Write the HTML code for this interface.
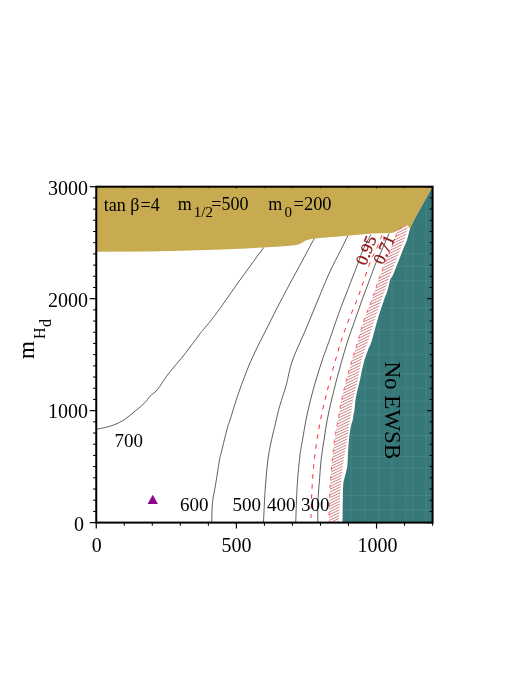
<!DOCTYPE html>
<html><head><meta charset="utf-8">
<style>
html,body{margin:0;padding:0;background:#fff;}
body{width:520px;height:692px;overflow:hidden;}
svg{display:block;opacity:0.999;will-change:transform;}
text{font-family:"Liberation Serif",serif;}
</style></head><body>
<svg width="520" height="692" viewBox="0 0 520 692">
<defs>
<clipPath id="plot"><rect x="96.25" y="186.7" width="336.35" height="335.9"/></clipPath>
<clipPath id="hclip"><path d="M407.50,225.00 L402.00,227.50 L397.00,231.00 L396.50,234.00 L393.50,242.00 L389.50,252.00 L387.00,258.00 L385.80,261.00 L378.50,280.00 L371.80,300.00 L364.00,320.00 L358.20,340.00 L352.00,360.00 L346.50,380.00 L341.50,400.00 L338.00,420.00 L334.50,440.00 L332.30,460.00 L330.50,480.00 L329.40,500.00 L329.00,522.50 L339.00,522.50 L340.00,500.00 L341.00,480.00 L343.70,460.00 L347.00,440.00 L350.00,420.00 L353.00,400.00 L357.70,380.00 L361.50,360.00 L368.50,340.00 L374.50,320.00 L381.50,300.00 L388.50,280.00 L396.00,260.00 L397.00,258.00 L402.00,245.00 L406.00,235.00 L407.50,226.00 Z"/></clipPath>
<clipPath id="tclip"><path d="M432.60,186.60 C429.50,192.17 417.77,212.93 414.00,220.00 C410.23,227.07 411.17,225.67 410.00,229.00 C408.83,232.33 408.00,237.00 407.00,240.00 C406.00,243.00 405.33,243.67 404.00,247.00 C402.67,250.33 400.50,256.17 399.00,260.00 C397.50,263.83 396.00,267.50 395.00,270.00 C394.00,272.50 393.83,273.33 393.00,275.00 C392.17,276.67 390.67,278.33 390.00,280.00 C389.33,281.67 389.50,283.00 389.00,285.00 C388.50,287.00 387.83,289.50 387.00,292.00 C386.17,294.50 385.58,295.33 384.00,300.00 C382.42,304.67 379.50,313.33 377.50,320.00 C375.50,326.67 373.58,335.00 372.00,340.00 C370.42,345.00 369.25,346.67 368.00,350.00 C366.75,353.33 365.50,356.67 364.50,360.00 C363.50,363.33 362.75,366.67 362.00,370.00 C361.25,373.33 360.75,376.67 360.00,380.00 C359.25,383.33 358.25,386.67 357.50,390.00 C356.75,393.33 356.00,396.67 355.50,400.00 C355.00,403.33 354.83,407.50 354.50,410.00 C354.17,412.50 353.80,413.33 353.50,415.00 C353.20,416.67 353.20,417.83 352.70,420.00 C352.20,422.17 351.12,424.67 350.50,428.00 C349.88,431.33 349.38,436.33 349.00,440.00 C348.62,443.67 348.42,446.67 348.20,450.00 C347.98,453.33 347.90,457.00 347.70,460.00 C347.50,463.00 347.53,465.00 347.00,468.00 C346.47,471.00 345.13,475.17 344.50,478.00 C343.87,480.83 343.48,481.33 343.20,485.00 C342.92,488.67 342.92,493.75 342.80,500.00 C342.68,506.25 342.55,518.75 342.50,522.50 L432.60,522.60 Z"/></clipPath>
</defs>
<rect width="520" height="692" fill="#fff"/>
<g clip-path="url(#plot)">
<path fill="#377878" d="M432.60,186.60 C429.50,192.17 417.77,212.93 414.00,220.00 C410.23,227.07 411.17,225.67 410.00,229.00 C408.83,232.33 408.00,237.00 407.00,240.00 C406.00,243.00 405.33,243.67 404.00,247.00 C402.67,250.33 400.50,256.17 399.00,260.00 C397.50,263.83 396.00,267.50 395.00,270.00 C394.00,272.50 393.83,273.33 393.00,275.00 C392.17,276.67 390.67,278.33 390.00,280.00 C389.33,281.67 389.50,283.00 389.00,285.00 C388.50,287.00 387.83,289.50 387.00,292.00 C386.17,294.50 385.58,295.33 384.00,300.00 C382.42,304.67 379.50,313.33 377.50,320.00 C375.50,326.67 373.58,335.00 372.00,340.00 C370.42,345.00 369.25,346.67 368.00,350.00 C366.75,353.33 365.50,356.67 364.50,360.00 C363.50,363.33 362.75,366.67 362.00,370.00 C361.25,373.33 360.75,376.67 360.00,380.00 C359.25,383.33 358.25,386.67 357.50,390.00 C356.75,393.33 356.00,396.67 355.50,400.00 C355.00,403.33 354.83,407.50 354.50,410.00 C354.17,412.50 353.80,413.33 353.50,415.00 C353.20,416.67 353.20,417.83 352.70,420.00 C352.20,422.17 351.12,424.67 350.50,428.00 C349.88,431.33 349.38,436.33 349.00,440.00 C348.62,443.67 348.42,446.67 348.20,450.00 C347.98,453.33 347.90,457.00 347.70,460.00 C347.50,463.00 347.53,465.00 347.00,468.00 C346.47,471.00 345.13,475.17 344.50,478.00 C343.87,480.83 343.48,481.33 343.20,485.00 C342.92,488.67 342.92,493.75 342.80,500.00 C342.68,506.25 342.55,518.75 342.50,522.50 L432.60,522.60 Z"/>
<g clip-path="url(#tclip)" stroke="#6fa3a3" stroke-width="0.7" opacity="0.38">
<line x1="351.0" y1="180" x2="351.0" y2="530"/><line x1="406.0" y1="180" x2="406.0" y2="530"/><line x1="365.0" y1="180" x2="365.0" y2="530"/><line x1="378.5" y1="180" x2="378.5" y2="530"/><line x1="392.0" y1="180" x2="392.0" y2="530"/><line x1="413.0" y1="180" x2="413.0" y2="530"/><line x1="426.0" y1="180" x2="426.0" y2="530"/><line x1="330" y1="253.6" x2="440" y2="253.6"/><line x1="330" y1="266.6" x2="440" y2="266.6"/><line x1="330" y1="280.7" x2="440" y2="280.7"/><line x1="330" y1="307.8" x2="440" y2="307.8"/><line x1="330" y1="329.7" x2="440" y2="329.7"/><line x1="330" y1="354.7" x2="440" y2="354.7"/><line x1="330" y1="373.6" x2="440" y2="373.6"/><line x1="330" y1="388.2" x2="440" y2="388.2"/><line x1="330" y1="401.0" x2="440" y2="401.0"/><line x1="330" y1="414.8" x2="440" y2="414.8"/><line x1="330" y1="435.6" x2="440" y2="435.6"/><line x1="330" y1="456.4" x2="440" y2="456.4"/><line x1="330" y1="468.0" x2="440" y2="468.0"/><line x1="330" y1="495.6" x2="440" y2="495.6"/><line x1="330" y1="509.8" x2="440" y2="509.8"/>
</g>
<path fill="#c8aa50" d="M96.20,186.60 L432.60,186.60 L414.00,220.00 L410.00,229.00 L407.50,225.00 L402.00,227.50 L397.00,231.00 L392.00,233.00 L372.00,233.50 L350.00,235.60 L320.00,238.00 L311.25,239.10 L306.25,240.30 L302.50,242.50 L298.75,244.40 L292.50,245.60 L280.00,246.60 L263.00,247.60 L240.00,248.70 L215.00,249.75 L180.00,250.80 L150.00,251.50 L96.20,251.70 Z"/>
<g clip-path="url(#hclip)" stroke="#b84a50" stroke-width="0.7">
<line x1="320" y1="200.00" x2="420" y2="152.00"/>
<line x1="320" y1="202.80" x2="420" y2="154.80"/>
<line x1="320" y1="205.60" x2="420" y2="157.60"/>
<line x1="320" y1="208.40" x2="420" y2="160.40"/>
<line x1="320" y1="211.20" x2="420" y2="163.20"/>
<line x1="320" y1="214.00" x2="420" y2="166.00"/>
<line x1="320" y1="216.80" x2="420" y2="168.80"/>
<line x1="320" y1="219.60" x2="420" y2="171.60"/>
<line x1="320" y1="222.40" x2="420" y2="174.40"/>
<line x1="320" y1="225.20" x2="420" y2="177.20"/>
<line x1="320" y1="228.00" x2="420" y2="180.00"/>
<line x1="320" y1="230.80" x2="420" y2="182.80"/>
<line x1="320" y1="233.60" x2="420" y2="185.60"/>
<line x1="320" y1="236.40" x2="420" y2="188.40"/>
<line x1="320" y1="239.20" x2="420" y2="191.20"/>
<line x1="320" y1="242.00" x2="420" y2="194.00"/>
<line x1="320" y1="244.80" x2="420" y2="196.80"/>
<line x1="320" y1="247.60" x2="420" y2="199.60"/>
<line x1="320" y1="250.40" x2="420" y2="202.40"/>
<line x1="320" y1="253.20" x2="420" y2="205.20"/>
<line x1="320" y1="256.00" x2="420" y2="208.00"/>
<line x1="320" y1="258.80" x2="420" y2="210.80"/>
<line x1="320" y1="261.60" x2="420" y2="213.60"/>
<line x1="320" y1="264.40" x2="420" y2="216.40"/>
<line x1="320" y1="267.20" x2="420" y2="219.20"/>
<line x1="320" y1="270.00" x2="420" y2="222.00"/>
<line x1="320" y1="272.80" x2="420" y2="224.80"/>
<line x1="320" y1="275.60" x2="420" y2="227.60"/>
<line x1="320" y1="278.40" x2="420" y2="230.40"/>
<line x1="320" y1="281.20" x2="420" y2="233.20"/>
<line x1="320" y1="284.00" x2="420" y2="236.00"/>
<line x1="320" y1="286.80" x2="420" y2="238.80"/>
<line x1="320" y1="289.60" x2="420" y2="241.60"/>
<line x1="320" y1="292.40" x2="420" y2="244.40"/>
<line x1="320" y1="295.20" x2="420" y2="247.20"/>
<line x1="320" y1="298.00" x2="420" y2="250.00"/>
<line x1="320" y1="300.80" x2="420" y2="252.80"/>
<line x1="320" y1="303.60" x2="420" y2="255.60"/>
<line x1="320" y1="306.40" x2="420" y2="258.40"/>
<line x1="320" y1="309.20" x2="420" y2="261.20"/>
<line x1="320" y1="312.00" x2="420" y2="264.00"/>
<line x1="320" y1="314.80" x2="420" y2="266.80"/>
<line x1="320" y1="317.60" x2="420" y2="269.60"/>
<line x1="320" y1="320.40" x2="420" y2="272.40"/>
<line x1="320" y1="323.20" x2="420" y2="275.20"/>
<line x1="320" y1="326.00" x2="420" y2="278.00"/>
<line x1="320" y1="328.80" x2="420" y2="280.80"/>
<line x1="320" y1="331.60" x2="420" y2="283.60"/>
<line x1="320" y1="334.40" x2="420" y2="286.40"/>
<line x1="320" y1="337.20" x2="420" y2="289.20"/>
<line x1="320" y1="340.00" x2="420" y2="292.00"/>
<line x1="320" y1="342.80" x2="420" y2="294.80"/>
<line x1="320" y1="345.60" x2="420" y2="297.60"/>
<line x1="320" y1="348.40" x2="420" y2="300.40"/>
<line x1="320" y1="351.20" x2="420" y2="303.20"/>
<line x1="320" y1="354.00" x2="420" y2="306.00"/>
<line x1="320" y1="356.80" x2="420" y2="308.80"/>
<line x1="320" y1="359.60" x2="420" y2="311.60"/>
<line x1="320" y1="362.40" x2="420" y2="314.40"/>
<line x1="320" y1="365.20" x2="420" y2="317.20"/>
<line x1="320" y1="368.00" x2="420" y2="320.00"/>
<line x1="320" y1="370.80" x2="420" y2="322.80"/>
<line x1="320" y1="373.60" x2="420" y2="325.60"/>
<line x1="320" y1="376.40" x2="420" y2="328.40"/>
<line x1="320" y1="379.20" x2="420" y2="331.20"/>
<line x1="320" y1="382.00" x2="420" y2="334.00"/>
<line x1="320" y1="384.80" x2="420" y2="336.80"/>
<line x1="320" y1="387.60" x2="420" y2="339.60"/>
<line x1="320" y1="390.40" x2="420" y2="342.40"/>
<line x1="320" y1="393.20" x2="420" y2="345.20"/>
<line x1="320" y1="396.00" x2="420" y2="348.00"/>
<line x1="320" y1="398.80" x2="420" y2="350.80"/>
<line x1="320" y1="401.60" x2="420" y2="353.60"/>
<line x1="320" y1="404.40" x2="420" y2="356.40"/>
<line x1="320" y1="407.20" x2="420" y2="359.20"/>
<line x1="320" y1="410.00" x2="420" y2="362.00"/>
<line x1="320" y1="412.80" x2="420" y2="364.80"/>
<line x1="320" y1="415.60" x2="420" y2="367.60"/>
<line x1="320" y1="418.40" x2="420" y2="370.40"/>
<line x1="320" y1="421.20" x2="420" y2="373.20"/>
<line x1="320" y1="424.00" x2="420" y2="376.00"/>
<line x1="320" y1="426.80" x2="420" y2="378.80"/>
<line x1="320" y1="429.60" x2="420" y2="381.60"/>
<line x1="320" y1="432.40" x2="420" y2="384.40"/>
<line x1="320" y1="435.20" x2="420" y2="387.20"/>
<line x1="320" y1="438.00" x2="420" y2="390.00"/>
<line x1="320" y1="440.80" x2="420" y2="392.80"/>
<line x1="320" y1="443.60" x2="420" y2="395.60"/>
<line x1="320" y1="446.40" x2="420" y2="398.40"/>
<line x1="320" y1="449.20" x2="420" y2="401.20"/>
<line x1="320" y1="452.00" x2="420" y2="404.00"/>
<line x1="320" y1="454.80" x2="420" y2="406.80"/>
<line x1="320" y1="457.60" x2="420" y2="409.60"/>
<line x1="320" y1="460.40" x2="420" y2="412.40"/>
<line x1="320" y1="463.20" x2="420" y2="415.20"/>
<line x1="320" y1="466.00" x2="420" y2="418.00"/>
<line x1="320" y1="468.80" x2="420" y2="420.80"/>
<line x1="320" y1="471.60" x2="420" y2="423.60"/>
<line x1="320" y1="474.40" x2="420" y2="426.40"/>
<line x1="320" y1="477.20" x2="420" y2="429.20"/>
<line x1="320" y1="480.00" x2="420" y2="432.00"/>
<line x1="320" y1="482.80" x2="420" y2="434.80"/>
<line x1="320" y1="485.60" x2="420" y2="437.60"/>
<line x1="320" y1="488.40" x2="420" y2="440.40"/>
<line x1="320" y1="491.20" x2="420" y2="443.20"/>
<line x1="320" y1="494.00" x2="420" y2="446.00"/>
<line x1="320" y1="496.80" x2="420" y2="448.80"/>
<line x1="320" y1="499.60" x2="420" y2="451.60"/>
<line x1="320" y1="502.40" x2="420" y2="454.40"/>
<line x1="320" y1="505.20" x2="420" y2="457.20"/>
<line x1="320" y1="508.00" x2="420" y2="460.00"/>
<line x1="320" y1="510.80" x2="420" y2="462.80"/>
<line x1="320" y1="513.60" x2="420" y2="465.60"/>
<line x1="320" y1="516.40" x2="420" y2="468.40"/>
<line x1="320" y1="519.20" x2="420" y2="471.20"/>
<line x1="320" y1="522.00" x2="420" y2="474.00"/>
<line x1="320" y1="524.80" x2="420" y2="476.80"/>
<line x1="320" y1="527.60" x2="420" y2="479.60"/>
<line x1="320" y1="530.40" x2="420" y2="482.40"/>
<line x1="320" y1="533.20" x2="420" y2="485.20"/>
<line x1="320" y1="536.00" x2="420" y2="488.00"/>
<line x1="320" y1="538.80" x2="420" y2="490.80"/>
<line x1="320" y1="541.60" x2="420" y2="493.60"/>
<line x1="320" y1="544.40" x2="420" y2="496.40"/>
<line x1="320" y1="547.20" x2="420" y2="499.20"/>
<line x1="320" y1="550.00" x2="420" y2="502.00"/>
<line x1="320" y1="552.80" x2="420" y2="504.80"/>
<line x1="320" y1="555.60" x2="420" y2="507.60"/>
<line x1="320" y1="558.40" x2="420" y2="510.40"/>
</g>
<path fill="none" stroke="#ff4450" stroke-width="0.9" stroke-dasharray="3.5 5.5" d="M402.00,227.50 C401.17,228.08 397.92,229.92 397.00,231.00 C396.08,232.08 397.08,232.17 396.50,234.00 C395.92,235.83 394.67,239.00 393.50,242.00 C392.33,245.00 390.58,249.33 389.50,252.00 C388.42,254.67 387.62,256.50 387.00,258.00 C386.38,259.50 387.22,257.33 385.80,261.00 C384.38,264.67 380.83,273.50 378.50,280.00 C376.17,286.50 374.22,293.33 371.80,300.00 C369.38,306.67 366.27,313.33 364.00,320.00 C361.73,326.67 360.20,333.33 358.20,340.00 C356.20,346.67 353.95,353.33 352.00,360.00 C350.05,366.67 348.25,373.33 346.50,380.00 C344.75,386.67 342.92,393.33 341.50,400.00 C340.08,406.67 339.17,413.33 338.00,420.00 C336.83,426.67 335.45,433.33 334.50,440.00 C333.55,446.67 332.97,453.33 332.30,460.00 C331.63,466.67 330.98,473.33 330.50,480.00 C330.02,486.67 329.65,492.92 329.40,500.00 C329.15,507.08 329.07,518.75 329.00,522.50"/>
<g fill="none" stroke="#2a2a2a" stroke-width="0.75">
<path d="M96.25,429.25 C98.54,428.75 105.62,427.67 110.00,426.25 C114.38,424.83 118.33,423.25 122.50,420.75 C126.67,418.25 131.25,414.29 135.00,411.25 C138.75,408.21 142.50,405.00 145.00,402.50 C147.50,400.00 147.92,398.42 150.00,396.25 C152.08,394.08 154.58,393.04 157.50,389.50 C160.42,385.96 162.92,380.96 167.50,375.00 C172.08,369.04 179.58,360.62 185.00,353.75 C190.42,346.88 195.00,340.17 200.00,333.75 C205.00,327.33 208.33,324.21 215.00,315.25 C221.67,306.29 231.88,291.29 240.00,280.00 C248.12,268.71 259.79,252.92 263.75,247.50"/>
<path d="M314.20,238.60 C311.83,243.00 305.28,255.18 300.00,265.00 C294.72,274.82 288.17,286.67 282.50,297.50 C276.83,308.33 271.21,319.58 266.00,330.00 C260.79,340.42 255.79,349.58 251.25,360.00 C246.71,370.42 242.29,382.50 238.75,392.50 C235.21,402.50 231.88,414.17 230.00,420.00 C228.12,425.83 228.96,422.08 227.50,427.50 C226.04,432.92 222.58,447.08 221.25,452.50 C219.92,457.92 220.46,454.58 219.50,460.00 C218.54,465.42 216.67,477.92 215.50,485.00 C214.33,492.08 213.12,496.33 212.50,502.50 C211.88,508.67 211.88,518.75 211.75,522.00"/>
<path d="M347.75,236.00 C346.59,238.33 343.76,244.08 340.80,250.00 C337.84,255.92 333.47,264.00 330.00,271.50 C326.53,279.00 324.08,285.25 320.00,295.00 C315.92,304.75 310.12,319.00 305.50,330.00 C300.88,341.00 295.46,351.83 292.25,361.00 C289.04,370.17 288.29,377.67 286.25,385.00 C284.21,392.33 281.67,399.17 280.00,405.00 C278.33,410.83 278.08,412.08 276.25,420.00 C274.42,427.92 270.79,441.67 269.00,452.50 C267.21,463.33 266.42,473.42 265.50,485.00 C264.58,496.58 263.83,515.83 263.50,522.00"/>
<path d="M370.90,234.50 C369.58,237.08 365.45,244.42 363.00,250.00 C360.55,255.58 360.03,258.00 356.20,268.00 C352.37,278.00 344.45,298.00 340.00,310.00 C335.55,322.00 332.45,331.67 329.50,340.00 C326.55,348.33 324.55,353.33 322.30,360.00 C320.05,366.67 317.97,373.33 316.00,380.00 C314.03,386.67 312.17,393.33 310.50,400.00 C308.83,406.67 307.33,413.33 306.00,420.00 C304.67,426.67 303.50,434.17 302.50,440.00 C301.50,445.83 300.88,447.50 300.00,455.00 C299.12,462.50 297.96,473.83 297.25,485.00 C296.54,496.17 296.00,515.83 295.75,522.00"/>
<path d="M389.00,233.50 C387.22,237.58 380.30,253.58 378.30,258.00 C376.30,262.42 378.47,256.33 377.00,260.00 C375.53,263.67 372.00,273.33 369.50,280.00 C367.00,286.67 364.42,293.33 362.00,300.00 C359.58,306.67 357.33,313.33 355.00,320.00 C352.67,326.67 350.17,333.33 348.00,340.00 C345.83,346.67 343.92,353.33 342.00,360.00 C340.08,366.67 338.25,373.33 336.50,380.00 C334.75,386.67 333.05,393.33 331.50,400.00 C329.95,406.67 328.45,413.33 327.20,420.00 C325.95,426.67 325.02,433.33 324.00,440.00 C322.98,446.67 321.85,453.33 321.10,460.00 C320.35,466.67 320.02,473.33 319.50,480.00 C318.98,486.67 318.28,493.00 318.00,500.00 C317.72,507.00 317.83,518.33 317.80,522.00"/>
</g>
<path fill="none" stroke="#ff2a30" stroke-width="1" stroke-dasharray="4.5 5.5" d="M382.00,235.00 C381.50,236.33 380.33,239.83 379.00,243.00 C377.67,246.17 375.33,251.17 374.00,254.00 C372.67,256.83 372.67,255.67 371.00,260.00 C369.33,264.33 366.33,273.33 364.00,280.00 C361.67,286.67 359.55,293.33 357.00,300.00 C354.45,306.67 351.28,313.33 348.70,320.00 C346.12,326.67 343.70,333.33 341.50,340.00 C339.30,346.67 337.42,353.33 335.50,360.00 C333.58,366.67 331.75,373.33 330.00,380.00 C328.25,386.67 326.58,393.33 325.00,400.00 C323.42,406.67 321.83,413.33 320.50,420.00 C319.17,426.67 318.03,433.33 317.00,440.00 C315.97,446.67 315.05,453.33 314.30,460.00 C313.55,466.67 312.97,473.33 312.50,480.00 C312.03,486.67 311.75,493.67 311.50,500.00 C311.25,506.33 311.08,515.00 311.00,518.00"/>
</g>
<g font-size="19">
<text x="114.5" y="447">700</text>
<text x="180" y="510.5">600</text>
<text x="232.5" y="510.5">500</text>
<text x="267" y="510.5">400</text>
<text x="301" y="511">300</text>
</g>
<polygon points="152.75,494.8 157.9,504.1 147.6,504.1" fill="#900092"/>
<g font-size="17" fill="#8b1414" stroke="#8b1414" stroke-width="0.3">
<text transform="translate(365.8,266.3) rotate(-68)">0.95</text>
<text transform="translate(383,265.4) rotate(-65.5)">0.71</text>
</g>
<text font-size="23" transform="translate(384.5,361.5) rotate(90)">No EWSB</text>
<g font-size="18">
<text x="103.7" y="210.8">tan β<tspan dx="1.2">=4</tspan></text>
<text x="177.8" y="209.5">m</text>
<text x="193.8" y="217.4" font-size="15">1/2</text>
<text x="211.3" y="209.5">=500</text>
<text x="268.2" y="209.5">m</text>
<text x="284.4" y="217.4" font-size="15">0</text>
<text x="293.6" y="209.5" font-size="18.4">=200</text>
</g>
<rect x="96.25" y="186.7" width="336.35" height="335.9" fill="none" stroke="#000" stroke-width="2"/>
<g stroke="#000">
<line x1="89.75" y1="522.60" x2="96.25" y2="522.60" stroke-width="1.2"/>
<line x1="427.10" y1="522.60" x2="432.60" y2="522.60" stroke-width="1.2"/>
<line x1="93.05" y1="511.40" x2="96.25" y2="511.40" stroke-width="1"/>
<line x1="429.60" y1="511.40" x2="432.60" y2="511.40" stroke-width="1"/>
<line x1="93.05" y1="500.21" x2="96.25" y2="500.21" stroke-width="1"/>
<line x1="429.60" y1="500.21" x2="432.60" y2="500.21" stroke-width="1"/>
<line x1="93.05" y1="489.01" x2="96.25" y2="489.01" stroke-width="1"/>
<line x1="429.60" y1="489.01" x2="432.60" y2="489.01" stroke-width="1"/>
<line x1="93.05" y1="477.81" x2="96.25" y2="477.81" stroke-width="1"/>
<line x1="429.60" y1="477.81" x2="432.60" y2="477.81" stroke-width="1"/>
<line x1="93.05" y1="466.62" x2="96.25" y2="466.62" stroke-width="1"/>
<line x1="429.60" y1="466.62" x2="432.60" y2="466.62" stroke-width="1"/>
<line x1="93.05" y1="455.42" x2="96.25" y2="455.42" stroke-width="1"/>
<line x1="429.60" y1="455.42" x2="432.60" y2="455.42" stroke-width="1"/>
<line x1="93.05" y1="444.22" x2="96.25" y2="444.22" stroke-width="1"/>
<line x1="429.60" y1="444.22" x2="432.60" y2="444.22" stroke-width="1"/>
<line x1="93.05" y1="433.03" x2="96.25" y2="433.03" stroke-width="1"/>
<line x1="429.60" y1="433.03" x2="432.60" y2="433.03" stroke-width="1"/>
<line x1="93.05" y1="421.83" x2="96.25" y2="421.83" stroke-width="1"/>
<line x1="429.60" y1="421.83" x2="432.60" y2="421.83" stroke-width="1"/>
<line x1="89.75" y1="410.63" x2="96.25" y2="410.63" stroke-width="1.2"/>
<line x1="427.10" y1="410.63" x2="432.60" y2="410.63" stroke-width="1.2"/>
<line x1="93.05" y1="399.44" x2="96.25" y2="399.44" stroke-width="1"/>
<line x1="429.60" y1="399.44" x2="432.60" y2="399.44" stroke-width="1"/>
<line x1="93.05" y1="388.24" x2="96.25" y2="388.24" stroke-width="1"/>
<line x1="429.60" y1="388.24" x2="432.60" y2="388.24" stroke-width="1"/>
<line x1="93.05" y1="377.04" x2="96.25" y2="377.04" stroke-width="1"/>
<line x1="429.60" y1="377.04" x2="432.60" y2="377.04" stroke-width="1"/>
<line x1="93.05" y1="365.85" x2="96.25" y2="365.85" stroke-width="1"/>
<line x1="429.60" y1="365.85" x2="432.60" y2="365.85" stroke-width="1"/>
<line x1="93.05" y1="354.65" x2="96.25" y2="354.65" stroke-width="1"/>
<line x1="429.60" y1="354.65" x2="432.60" y2="354.65" stroke-width="1"/>
<line x1="93.05" y1="343.45" x2="96.25" y2="343.45" stroke-width="1"/>
<line x1="429.60" y1="343.45" x2="432.60" y2="343.45" stroke-width="1"/>
<line x1="93.05" y1="332.26" x2="96.25" y2="332.26" stroke-width="1"/>
<line x1="429.60" y1="332.26" x2="432.60" y2="332.26" stroke-width="1"/>
<line x1="93.05" y1="321.06" x2="96.25" y2="321.06" stroke-width="1"/>
<line x1="429.60" y1="321.06" x2="432.60" y2="321.06" stroke-width="1"/>
<line x1="93.05" y1="309.86" x2="96.25" y2="309.86" stroke-width="1"/>
<line x1="429.60" y1="309.86" x2="432.60" y2="309.86" stroke-width="1"/>
<line x1="89.75" y1="298.67" x2="96.25" y2="298.67" stroke-width="1.2"/>
<line x1="427.10" y1="298.67" x2="432.60" y2="298.67" stroke-width="1.2"/>
<line x1="93.05" y1="287.47" x2="96.25" y2="287.47" stroke-width="1"/>
<line x1="429.60" y1="287.47" x2="432.60" y2="287.47" stroke-width="1"/>
<line x1="93.05" y1="276.27" x2="96.25" y2="276.27" stroke-width="1"/>
<line x1="429.60" y1="276.27" x2="432.60" y2="276.27" stroke-width="1"/>
<line x1="93.05" y1="265.08" x2="96.25" y2="265.08" stroke-width="1"/>
<line x1="429.60" y1="265.08" x2="432.60" y2="265.08" stroke-width="1"/>
<line x1="93.05" y1="253.88" x2="96.25" y2="253.88" stroke-width="1"/>
<line x1="429.60" y1="253.88" x2="432.60" y2="253.88" stroke-width="1"/>
<line x1="93.05" y1="242.68" x2="96.25" y2="242.68" stroke-width="1"/>
<line x1="429.60" y1="242.68" x2="432.60" y2="242.68" stroke-width="1"/>
<line x1="93.05" y1="231.49" x2="96.25" y2="231.49" stroke-width="1"/>
<line x1="429.60" y1="231.49" x2="432.60" y2="231.49" stroke-width="1"/>
<line x1="93.05" y1="220.29" x2="96.25" y2="220.29" stroke-width="1"/>
<line x1="429.60" y1="220.29" x2="432.60" y2="220.29" stroke-width="1"/>
<line x1="93.05" y1="209.09" x2="96.25" y2="209.09" stroke-width="1"/>
<line x1="429.60" y1="209.09" x2="432.60" y2="209.09" stroke-width="1"/>
<line x1="93.05" y1="197.90" x2="96.25" y2="197.90" stroke-width="1"/>
<line x1="429.60" y1="197.90" x2="432.60" y2="197.90" stroke-width="1"/>
<line x1="89.75" y1="186.70" x2="96.25" y2="186.70" stroke-width="1.2"/>
<line x1="427.10" y1="186.70" x2="432.60" y2="186.70" stroke-width="1.2"/>
<line x1="96.25" y1="186.70" x2="96.25" y2="188.90" stroke-width="0.8" stroke-opacity="0.7"/>
<line x1="96.25" y1="522.60" x2="96.25" y2="528.60" stroke-width="1.2"/>
<line x1="124.28" y1="186.70" x2="124.28" y2="188.30" stroke-width="0.8" stroke-opacity="0.7"/>
<line x1="124.28" y1="522.60" x2="124.28" y2="525.80" stroke-width="1"/>
<line x1="152.31" y1="186.70" x2="152.31" y2="188.30" stroke-width="0.8" stroke-opacity="0.7"/>
<line x1="152.31" y1="522.60" x2="152.31" y2="525.80" stroke-width="1"/>
<line x1="180.34" y1="186.70" x2="180.34" y2="188.30" stroke-width="0.8" stroke-opacity="0.7"/>
<line x1="180.34" y1="522.60" x2="180.34" y2="525.80" stroke-width="1"/>
<line x1="208.37" y1="186.70" x2="208.37" y2="188.30" stroke-width="0.8" stroke-opacity="0.7"/>
<line x1="208.37" y1="522.60" x2="208.37" y2="525.80" stroke-width="1"/>
<line x1="236.40" y1="186.70" x2="236.40" y2="188.90" stroke-width="0.8" stroke-opacity="0.7"/>
<line x1="236.40" y1="522.60" x2="236.40" y2="528.60" stroke-width="1.2"/>
<line x1="264.43" y1="186.70" x2="264.43" y2="188.30" stroke-width="0.8" stroke-opacity="0.7"/>
<line x1="264.43" y1="522.60" x2="264.43" y2="525.80" stroke-width="1"/>
<line x1="292.45" y1="186.70" x2="292.45" y2="188.30" stroke-width="0.8" stroke-opacity="0.7"/>
<line x1="292.45" y1="522.60" x2="292.45" y2="525.80" stroke-width="1"/>
<line x1="320.48" y1="186.70" x2="320.48" y2="188.30" stroke-width="0.8" stroke-opacity="0.7"/>
<line x1="320.48" y1="522.60" x2="320.48" y2="525.80" stroke-width="1"/>
<line x1="348.51" y1="186.70" x2="348.51" y2="188.30" stroke-width="0.8" stroke-opacity="0.7"/>
<line x1="348.51" y1="522.60" x2="348.51" y2="525.80" stroke-width="1"/>
<line x1="376.54" y1="186.70" x2="376.54" y2="188.90" stroke-width="0.8" stroke-opacity="0.7"/>
<line x1="376.54" y1="522.60" x2="376.54" y2="528.60" stroke-width="1.2"/>
<line x1="404.57" y1="186.70" x2="404.57" y2="188.30" stroke-width="0.8" stroke-opacity="0.7"/>
<line x1="404.57" y1="522.60" x2="404.57" y2="525.80" stroke-width="1"/>
<line x1="432.60" y1="186.70" x2="432.60" y2="188.30" stroke-width="0.8" stroke-opacity="0.7"/>
<line x1="432.60" y1="522.60" x2="432.60" y2="525.80" stroke-width="1"/>
</g>
<g font-size="20">
<text x="88" y="195.2" text-anchor="end">3000</text>
<text x="88" y="306.6" text-anchor="end">2000</text>
<text x="88" y="418" text-anchor="end">1000</text>
<text x="84" y="530.6" text-anchor="end">0</text>
<text x="96.8" y="551.5" text-anchor="middle">0</text>
<text x="236.4" y="551.5" text-anchor="middle">500</text>
<text x="377.5" y="551.5" text-anchor="middle">1000</text>
</g>
<text font-size="23" transform="translate(33.5,359) rotate(-90)">m</text>
<text font-size="16" transform="translate(44.6,339) rotate(-90)">H</text>
<text font-size="16" transform="translate(50.6,327) rotate(-90)">d</text>
</svg>
</body></html>
